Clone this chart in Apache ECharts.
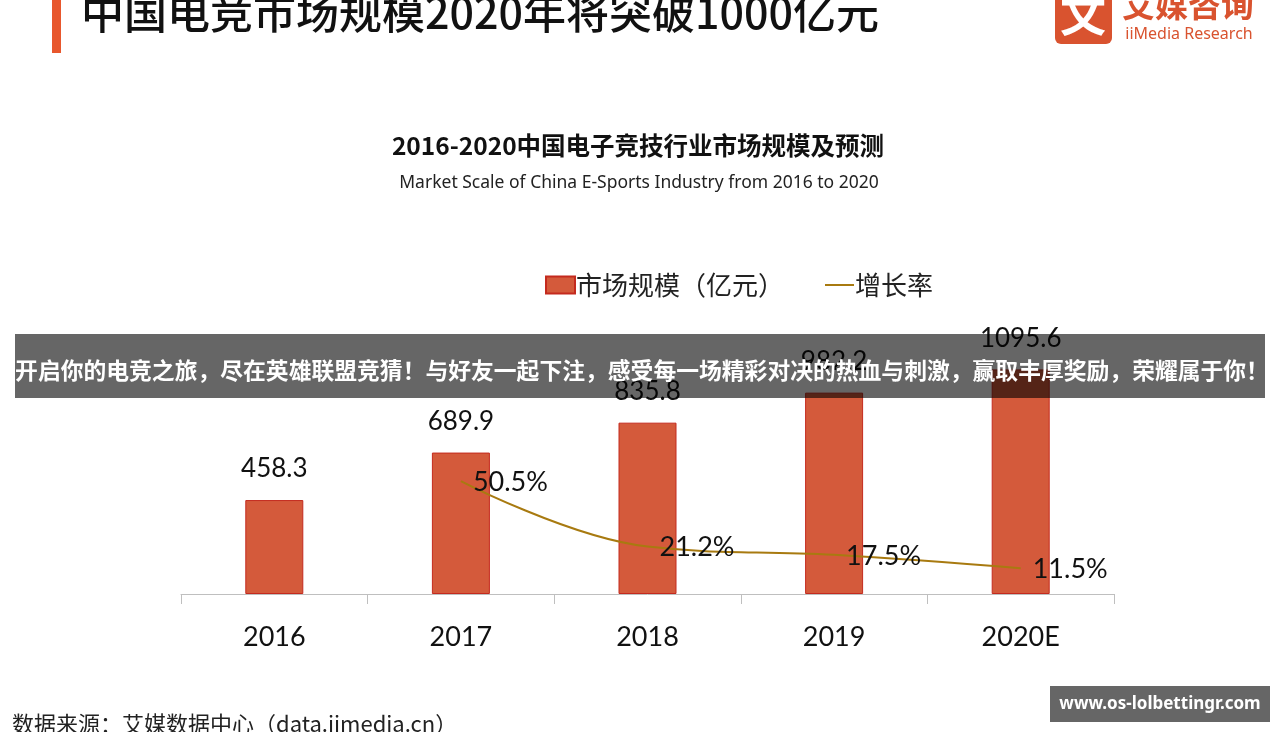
<!DOCTYPE html>
<html>
<head>
<meta charset="utf-8">
<script src="https://cdn.jsdelivr.net/npm/echarts@6/dist/echarts.min.js"></script>
<style>
html,body{margin:0;padding:0;background:#fff;}
#chart{width:1280px;height:732px;}
</style>
</head>
<body>
<div id="chart"></div>
<script>
const categories = ['2016', '2017', '2018', '2019', '2020E'];
const marketScale = [458.3, 689.9, 835.8, 982.2, 1095.6];
const growthRate = [null, 50.5, 21.2, 17.5, 11.5];
const seriesNames = ['市场规模（亿元）', '增长率'];
const pageTitle = '中国电竞市场规模2020年将突破1000亿元';
const chartTitle = '2016-2020中国电子竞技行业市场规模及预测';
const chartSubtitle = 'Market Scale of China E-Sports Industry from 2016 to 2020';
const bannerText = '开启你的电竞之旅，尽在英雄联盟竞猜！与好友一起下注，感受每一场精彩对决的热血与刺激，赢取丰厚奖励，荣耀属于你！';
const sourceText = '数据来源：艾媒数据中心（data.iimedia.cn）';
const watermarkText = 'www.os-lolbettingr.com';

const cjk = '"Noto Sans CJK SC", "Noto Sans", sans-serif';
const num = 'Lato, "Noto Sans", sans-serif';
const lineColor = '#A87A10';

const chart = echarts.init(document.getElementById('chart'));
chart.setOption({
  backgroundColor: '#ffffff',
  animation: false,
  title: [
    { text: chartTitle, left: 633, top: 128, textAlign: 'center',
      textStyle: { fontFamily: cjk, fontSize: 24.5, fontWeight: 'bold', color: '#111' } },
    { text: chartSubtitle, left: 634, top: 169, textAlign: 'center',
      textStyle: { fontFamily: '"Noto Sans", sans-serif', fontSize: 17.5, fontWeight: 'normal', color: '#222' } }
  ],
  legend: {
    left: 545, top: 272, padding: 0,
    itemWidth: 29, itemHeight: 17, itemGap: 40,
    textStyle: { fontFamily: cjk, fontSize: 26, color: '#222', padding: [0, 0, 0, -4] },
    data: [
      { name: seriesNames[0], icon: 'rect' },
      { name: seriesNames[1], itemStyle: { opacity: 0 } }
    ]
  },
  grid: { left: 181, right: 166, top: 348, bottom: 138 },
  xAxis: {
    type: 'category',
    data: categories,
    boundaryGap: true,
    axisLine: { lineStyle: { color: '#bfbfbf', width: 1 } },
    axisTick: { show: true, length: 10, lineStyle: { color: '#bfbfbf' } },
    axisLabel: { margin: 30, fontFamily: num, fontSize: 27, color: '#111' }
  },
  yAxis: [
    { type: 'value', min: 0, max: 1200, show: false, splitLine: { show: false } },
    { type: 'value', min: 0, max: 110, show: false, splitLine: { show: false } }
  ],
  series: [
    {
      name: seriesNames[0], type: 'bar', data: marketScale, barWidth: 58,
      itemStyle: { color: '#D45A3B', borderColor: '#C42A1E', borderWidth: 1 },
      label: { show: true, position: 'top', distance: 18, fontFamily: num, fontSize: 26, color: '#111' }
    },
    {
      name: seriesNames[1], type: 'line', yAxisIndex: 1, data: growthRate,
      smooth: 0.4, symbol: 'none',
      lineStyle: { color: lineColor, width: 2 },
      itemStyle: { color: lineColor },
      z: 3
    },
    {
      name: 'growthLabels', type: 'scatter', yAxisIndex: 1, data: growthRate,
      symbolSize: 2, itemStyle: { color: 'rgba(0,0,0,0)', opacity: 1 }, silent: true,
      label: { show: true, position: 'right', distance: 11, offset: [0, 1], formatter: '{c}%', fontFamily: num, fontSize: 27, color: '#111', opacity: 1 },
      z: 4
    }
  ],
  graphic: [
    { type: 'rect', left: 52, top: 0, shape: { width: 9, height: 53 }, style: { fill: '#E8572D' }, z: 10 },
    { type: 'text', left: 81, top: -9, style: { text: pageTitle, font: '500 43px ' + cjk, fill: '#111' }, z: 10 },
    { type: 'rect', left: 1055, top: -12, shape: { width: 57, height: 56, r: 6 }, style: { fill: '#D9532F' }, z: 10 },
    { type: 'text', x: 1083, y: 14, style: { text: '文', font: 'bold 46px ' + cjk, fill: '#fff', align: 'center', verticalAlign: 'middle' }, z: 11 },
    { type: 'text', x: 1188, y: 4, style: { text: '艾媒咨询', font: 'bold 33px ' + cjk, fill: '#D9532F', align: 'center', verticalAlign: 'middle' }, z: 10 },
    { type: 'text', x: 1189, y: 34, style: { text: 'iiMedia Research', font: '16px "Noto Sans", sans-serif', fill: '#D9532F', align: 'center', verticalAlign: 'middle' }, z: 10 },
    { type: 'rect', left: 15, top: 334, shape: { width: 1250, height: 64 }, style: { fill: 'rgba(0,0,0,0.6)' }, z: 100 },
    { type: 'text', x: 642, y: 370, style: { text: bannerText, font: 'bold 22.8px ' + cjk, fill: '#fff', align: 'center', verticalAlign: 'middle' }, z: 101 },
    { type: 'text', left: 12, top: 713, style: { text: sourceText, font: '22px ' + cjk, fill: '#222' }, z: 10 },
    { type: 'rect', left: 1050, top: 686, shape: { width: 220, height: 36 }, style: { fill: 'rgba(0,0,0,0.6)' }, z: 100 },
    { type: 'text', x: 1160, y: 704, style: { text: watermarkText, font: 'bold 17px "Noto Sans", sans-serif', fill: '#fff', align: 'center', verticalAlign: 'middle' }, z: 101 }
  ]
});
</script>
</body>
</html>
